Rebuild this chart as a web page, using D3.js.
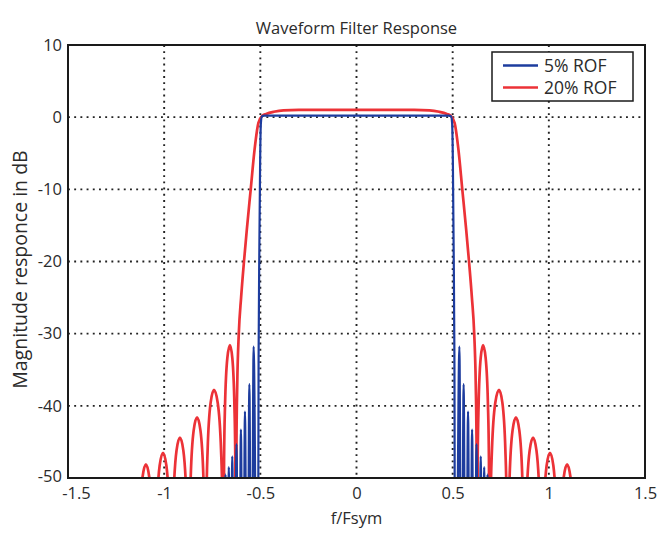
<!DOCTYPE html>
<html>
<head>
<meta charset="utf-8">
<script src="https://cdn.jsdelivr.net/npm/d3@7"></script>
<style>
  html, body { margin: 0; padding: 0; background: #fff; }
  svg { display: block; font-family: "Open Sans", "Noto Sans", sans-serif; }
</style>
</head>
<body>
<svg id="chart" width="660" height="543"></svg>
<script>
// ---- data ----
const chartTitle = "Waveform Filter Response";
const xTitle = "f/Fsym";
const yTitle = "Magnitude responce in dB";
const xTicks = [-1.5, -1, -0.5, 0, 0.5, 1, 1.5];
const yTicks = [10, 0, -10, -20, -30, -40, -50];
const xGrid = [-1, -0.5, 0, 0.5, 1];
const yGrid = [0, -10, -20, -30, -40];
const seriesNames = ["5% ROF", "20% ROF"];

// right half of each response (symmetric about f = 0), f/Fsym and dB
const redHalfF = [0, 0.30, 0.38, 0.43, 0.47, 0.49, 0.51, 0.53, 0.55, 0.57, 0.585, 0.60, 0.612, 0.62, 0.624, 0.627,
  0.6301, 0.6348, 0.6456, 0.658, 0.6716, 0.6835, 0.6886, 0.692,
  0.6969, 0.7043, 0.7214, 0.741, 0.7586, 0.774, 0.7806, 0.785,
  0.7894, 0.796, 0.8114, 0.829, 0.8466, 0.862, 0.8686, 0.873,
  0.8775, 0.8846, 0.9002, 0.918, 0.9358, 0.9514, 0.9585, 0.962,
  0.9664, 0.973, 0.9884, 1.006, 1.0236, 1.039, 1.0456, 1.05,
  1.0544, 1.062, 1.0774, 1.095, 1.1126, 1.128, 1.1336, 1.138,
  1.6];
const redHalfDb = [1.0, 1.0, 0.95, 0.75, 0.45, 0.2, -0.8, -4.5, -10, -15.5, -20, -25, -30, -37, -45, -90,
  -47.6, -39.9, -33.4, -31.6, -33.4, -39.9, -47.6, -90,
  -53.8, -46.1, -39.6, -37.8, -39.6, -46.1, -53.8, -90,
  -57.6, -49.9, -43.4, -41.6, -43.4, -49.9, -57.6, -90,
  -60.4, -52.7, -46.2, -44.4, -46.2, -52.7, -60.4, -90,
  -62.5, -54.8, -48.3, -46.5, -48.3, -54.8, -62.5, -90,
  -64.1, -56.4, -49.9, -48.1, -49.9, -56.4, -64.1, -90,
  -90];

const blueHalfF = [0, 0.48, 0.492, 0.497, 0.501, 0.505, 0.509, 0.514,
  0.535, 0.546,
  0.557, 0.568,
  0.58, 0.59,
  0.601, 0.612,
  0.624, 0.635,
  0.646, 0.655,
  0.664, 0.672,
  0.681, 0.69,
  1.6];
const blueHalfDb = [0.2, 0.2, 0.1, -0.8, -6, -18, -33, -90,
  -31.8, -90,
  -37, -90,
  -40.8, -90,
  -43.3, -90,
  -45.3, -90,
  -47, -90,
  -48.5, -90,
  -49.5, -90,
  -90];

// ---- build full symmetric curves ----
function mirror(fs, dbs) {
  const right = fs.map((f, i) => ({ f: f, db: dbs[i] }));
  const left = right.filter(d => d.f > 0).map(d => ({ f: -d.f, db: d.db })).reverse();
  return left.concat(right);
}
const redData = mirror(redHalfF, redHalfDb);
const blueData = mirror(blueHalfF, blueHalfDb);

// ---- layout ----
const svg = d3.select("#chart");
const L = 68, R = 645, T = 45, B = 478;
const x = d3.scaleLinear().domain([-1.5, 1.5]).range([L, R]);
const y = d3.scaleLinear().domain([-50, 10]).range([B, T]);
const textColor = "#2b2b2b";
const redColor = "#ec3237";
const blueColor = "#1d3c9e";

svg.append("defs").append("clipPath").attr("id", "plotclip")
  .append("rect").attr("x", L).attr("y", T).attr("width", R - L).attr("height", B - T);

// grid
const grid = svg.append("g");
grid.selectAll(".vg").data(xGrid).enter().append("line")
  .attr("x1", d => x(d)).attr("x2", d => x(d)).attr("y1", T).attr("y2", B)
  .attr("stroke", "#222").attr("stroke-width", 1.9).attr("stroke-dasharray", "1.9,4.3");
grid.selectAll(".hg").data(yGrid).enter().append("line")
  .attr("y1", d => y(d)).attr("y2", d => y(d)).attr("x1", L).attr("x2", R)
  .attr("stroke", "#222").attr("stroke-width", 1.9).attr("stroke-dasharray", "1.9,4.3");

// curves
const line = d3.line().x(d => x(d.f)).y(d => y(d.db)).curve(d3.curveMonotoneX);
const plot = svg.append("g").attr("clip-path", "url(#plotclip)");
plot.append("path").datum(redData).attr("d", line)
  .attr("fill", "none").attr("stroke", redColor).attr("stroke-width", 2.7).attr("stroke-linejoin", "round");
plot.append("path").datum(blueData).attr("d", line)
  .attr("fill", "none").attr("stroke", blueColor).attr("stroke-width", 2.2).attr("stroke-linejoin", "round");

// axes
const xAxis = svg.append("g").attr("transform", `translate(0,${B})`)
  .call(d3.axisBottom(x).tickValues(xTicks).tickSize(0).tickPadding(9).tickFormat(d => String(d)));
const yAxis = svg.append("g").attr("transform", `translate(${L},0)`)
  .call(d3.axisLeft(y).tickValues(yTicks).tickSize(0).tickPadding(6).tickFormat(d => String(d)));
[xAxis, yAxis].forEach(a => {
  a.select(".domain").remove();
  a.selectAll("text").attr("fill", textColor).style("font-size", "16.5px")
    .style("font-family", '"Open Sans", sans-serif');
});
// first x label sits a little right of the corner, as in the reference
xAxis.selectAll(".tick").filter(d => d === xTicks[0]).select("text").attr("dx", 8);
yAxis.selectAll(".tick").filter(d => d === yTicks[yTicks.length - 1]).select("text").attr("dy", "0.2em");

// frame
svg.append("rect").attr("x", L).attr("y", T).attr("width", R - L).attr("height", B - T)
  .attr("fill", "none").attr("stroke", "#1a1a1a").attr("stroke-width", 2);

// titles
svg.append("text").attr("x", 356.5).attr("y", 34).attr("text-anchor", "middle")
  .attr("fill", textColor).style("font-size", "16.5px").text(chartTitle);
svg.append("text").attr("x", 356.5).attr("y", 524).attr("text-anchor", "middle")
  .attr("fill", textColor).style("font-size", "16.5px").text(xTitle);
svg.append("text").attr("transform", `translate(27,${(T + B) / 2 + 8}) rotate(-90)`).attr("text-anchor", "middle")
  .attr("fill", textColor).style("font-size", "19.5px").text(yTitle);

// legend
const lg = svg.append("g");
lg.append("rect").attr("x", 492).attr("y", 52).attr("width", 141).attr("height", 49)
  .attr("fill", "#fff").attr("stroke", "#1a1a1a").attr("stroke-width", 1.5);
const legendColors = [blueColor, redColor];
seriesNames.forEach((name, i) => {
  const yy = 65.5 + i * 22;
  lg.append("line").attr("x1", 503).attr("x2", 538).attr("y1", yy).attr("y2", yy)
    .attr("stroke", legendColors[i]).attr("stroke-width", 2.6);
  lg.append("text").attr("x", 544).attr("y", yy + 6).attr("fill", textColor)
    .style("font-size", "17.5px").text(name);
});
</script>
</body>
</html>
